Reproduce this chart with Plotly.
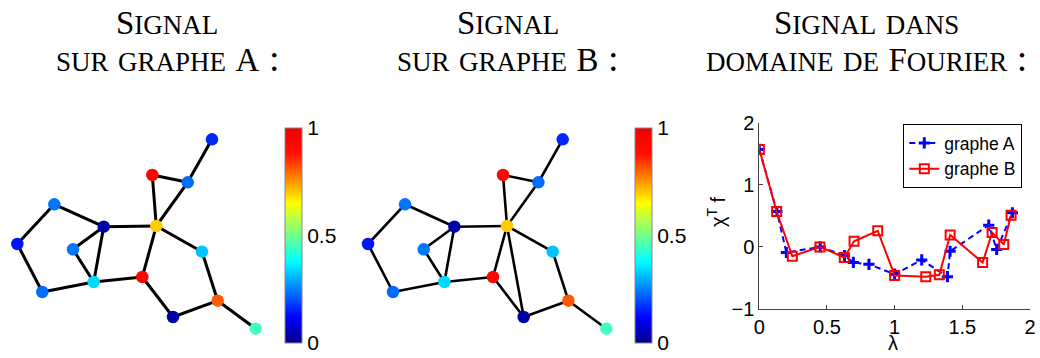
import plotly.graph_objects as go

W, H = 1040, 358

# ---------------- data ----------------
# graph layout coordinates of the 15 vertices (shared by graph A and graph B)
node_x = [212, 152.3, 187.7, 54.3, 103.7, 156.3, 17.3, 73, 202, 93.7, 142.3, 42.3, 217.7, 173, 255.7]
node_y = [139.3, 175, 182.3, 204.3, 226.7, 226, 244, 249.3, 251.7, 282, 277, 292, 300.7, 317, 328.7]
signal = [0.16, 0.93, 0.23, 0.24, 0.03, 0.70, 0.14, 0.24, 0.32, 0.34, 0.93, 0.23, 0.81, 0.03, 0.45]

edges_A = [(1, 3), (2, 3), (2, 6), (3, 6), (4, 5), (4, 7), (7, 12), (12, 10), (5, 8), (5, 10),
           (8, 10), (5, 6), (6, 11), (10, 11), (6, 9), (9, 13), (11, 14), (14, 13), (13, 15)]
edges_B = edges_A + [(6, 14)]

lam_A = [0, 0.13, 0.20, 0.45, 0.63, 0.695, 0.81, 1.0, 1.20, 1.39, 1.41, 1.695, 1.754, 1.87]
chi_A = [1.57, 0.57, -0.09, 0.0, -0.14, -0.25, -0.28, -0.44, -0.21, -0.48, -0.07, 0.35, -0.04, 0.55]
lam_B = [0, 0.128, 0.244, 0.448, 0.628, 0.70, 0.875, 1.0, 1.23, 1.33, 1.41, 1.65, 1.72, 1.806, 1.86]
chi_B = [1.57, 0.57, -0.15, 0.0, -0.17, 0.09, 0.26, -0.46, -0.48, -0.45, 0.19, -0.25, 0.23, 0.04, 0.51]

cb_ticks = [0, 0.5, 1]
cb_labels = ["0", "0.5", "1"]
x_ticks = [0, 0.5, 1, 1.5, 2]
y_ticks = [-1, 0, 1, 2]

titles = [["Signal", "sur graphe A :"], ["Signal", "sur graphe B :"], ["Signal dans", "domaine de Fourier :"]]

# ---------------- style ----------------
colorscale = [[0, "#00008a"], [0.12, "#0000ff"], [0.38, "#00ffff"],
              [0.65, "#ffff00"], [0.88, "#ff1000"], [1, "#f00000"]]


def px(x):
    return x / W


def py(y):
    return 1 - y / H


def smallcaps(s, cap_size=33):
    # capital letters at full size, lowercase letters rendered as small caps by the font variant
    out = ""
    for ch in s:
        if ch.isupper():
            out += '<span style="font-size:%dpx">%s</span>' % (cap_size, ch)
        else:
            out += ch
    return out


fig = go.Figure()


def add_graph(edges, xa, ya, cbx, ew):
    ex, ey = [], []
    for a, b in edges:
        ex += [node_x[a - 1], node_x[b - 1], None]
        ey += [node_y[a - 1], node_y[b - 1], None]
    fig.add_trace(go.Scatter(x=ex, y=ey, mode="lines", line=dict(color="black", width=ew),
                             xaxis=xa, yaxis=ya, showlegend=False, hoverinfo="skip"))
    fig.add_trace(go.Scatter(
        x=node_x, y=node_y, mode="markers", xaxis=xa, yaxis=ya, showlegend=False,
        marker=dict(size=12.5, color=signal, colorscale=colorscale, cmin=0, cmax=1,
                    line=dict(width=0), showscale=True,
                    colorbar=dict(x=px(cbx), xanchor="left", xref="paper",
                                  y=py(235.2), yanchor="middle", len=215 / H, lenmode="fraction",
                                  thickness=16.5, thicknessmode="pixels",
                                  outlinewidth=1, outlinecolor="#888",
                                  tickvals=cb_ticks, ticktext=cb_labels, ticks="",
                                  tickfont=dict(family="Liberation Sans, Arial", size=21, color="black"),
                                  ypad=0, xpad=0)),
    ))


add_graph(edges_A, "x", "y", 285, 3)
add_graph(edges_B, "x2", "y2", 635, 2.6)

fig.add_trace(go.Scatter(x=lam_A, y=chi_A, mode="lines+markers", name="graphe A",
                         line=dict(color="#0000ff", width=2, dash="6px,4px"),
                         marker=dict(symbol="cross-thin-open", size=8, line=dict(color="#0000ff", width=3)),
                         xaxis="x3", yaxis="y3"))
fig.add_trace(go.Scatter(x=lam_B, y=chi_B, mode="lines+markers", name="graphe B",
                         line=dict(color="#ff0000", width=2),
                         marker=dict(symbol="square-open", size=9, line=dict(color="#ff0000", width=2)),
                         xaxis="x3", yaxis="y3"))

hidden = dict(visible=False, showgrid=False, zeroline=False)
tickfont = dict(family="Liberation Sans, Arial", size=20, color="black")
fig.update_layout(
    width=W, height=H, autosize=False,
    margin=dict(l=0, r=0, t=0, b=0, autoexpand=False),
    paper_bgcolor="white", plot_bgcolor="white",
    xaxis=dict(domain=[0, px(270)], range=[0, 270], **hidden),
    yaxis=dict(domain=[0, 1], range=[H, 0], **hidden),
    xaxis2=dict(domain=[px(350.7), px(620.7)], range=[0, 270], **hidden),
    yaxis2=dict(domain=[0, 1], range=[H, 0], **hidden),
    xaxis3=dict(domain=[px(759.3), px(1030)], range=[0, 2], tickvals=x_ticks,
                ticktext=[str(v) for v in x_ticks], ticks="inside", ticklen=4, tickcolor="#444",
                showline=True, linecolor="#444", linewidth=1, showgrid=False, zeroline=False,
                tickfont=tickfont, anchor="y3"),
    yaxis3=dict(domain=[py(309), py(122.7)], range=[-1, 2], tickvals=y_ticks,
                ticks="inside", ticklen=4, tickcolor="#444",
                showline=True, linecolor="#444", linewidth=1, showgrid=False, zeroline=False,
                tickfont=tickfont, anchor="x3"),
    legend=dict(x=px(903.3), y=py(124), xanchor="left", yanchor="top",
                bordercolor="black", borderwidth=1, bgcolor="white",
                font=dict(family="Liberation Sans, Arial", size=17.5, color="black"),
                tracegroupgap=0, itemwidth=30),
)

ann = []
centers = [167, 508, 866]
for cx, (l1, l2) in zip(centers, titles):
    for yy, t in [(21, l1), (58, l2)]:
        ann.append(dict(x=px(cx), y=py(yy), xref="paper", yref="paper", text=smallcaps(t),
                        showarrow=False, xanchor="center", yanchor="middle", height=34,
                        borderpad=0, valign="middle",
                        font=dict(family="Liberation Serif, DejaVu Serif", size=38, color="black",
                                  variant="small-caps")))
ann.append(dict(x=px(716), y=py(212), xref="paper", yref="paper", text="χ<sup>T</sup> f",
                showarrow=False, textangle=-90, xanchor="center", yanchor="middle",
                font=dict(family="Liberation Sans, Arial", size=20, color="black")))
ann.append(dict(x=px(893), y=py(343), xref="paper", yref="paper", text="λ",
                showarrow=False, xanchor="center", yanchor="middle", height=18, borderpad=0,
                font=dict(family="Liberation Sans, Arial", size=20, color="black")))
fig.update_layout(annotations=ann)

fig.write_html("out.html", config={"displayModeBar": False},
               post_script="document.body.style.margin='0';")
